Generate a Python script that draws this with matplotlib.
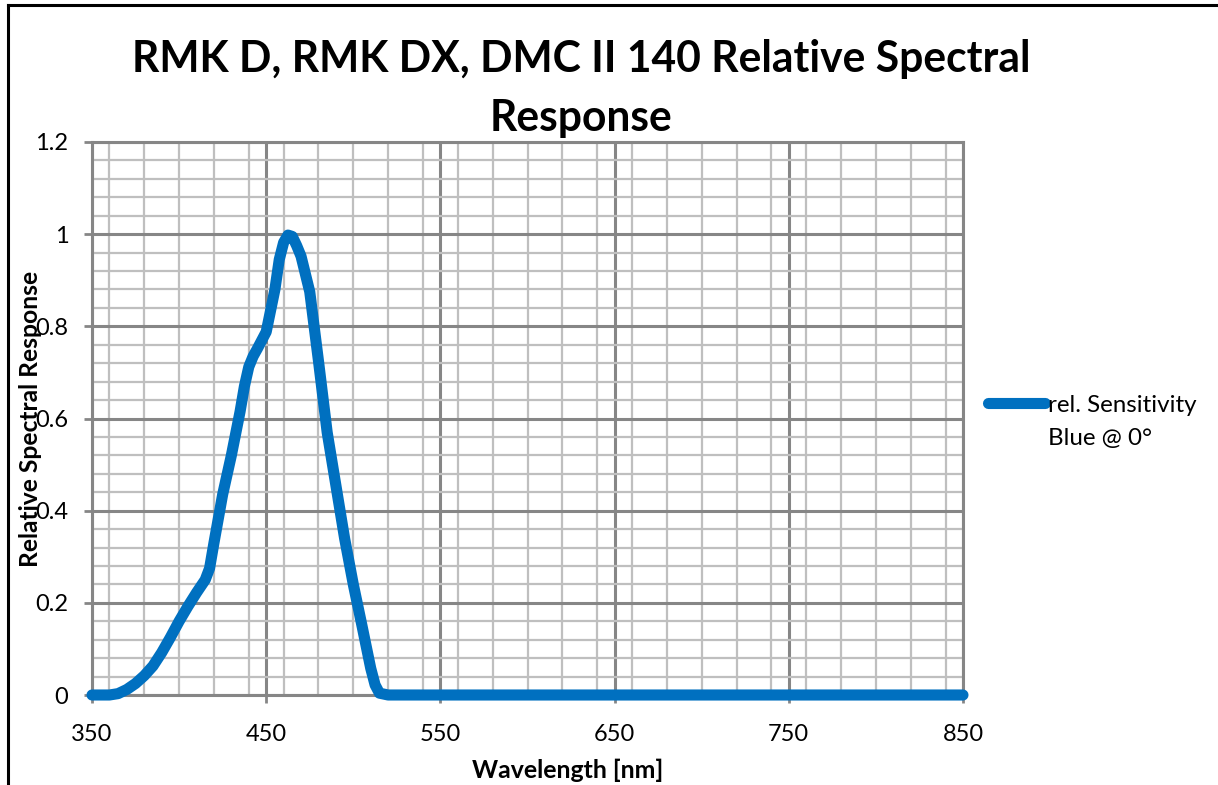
import matplotlib
matplotlib.use('Agg')
import matplotlib.pyplot as plt
from matplotlib.lines import Line2D
from matplotlib.ticker import MultipleLocator, FuncFormatter

# ---- data ----
wavelength = [350, 355, 360, 365, 370, 375, 380, 385, 390, 395, 400, 405, 410,
              415, 417.5, 420, 425, 430, 435, 437.5, 440, 442.5, 445, 450, 455, 457.5,
              460, 462.5, 465, 467.5, 470, 475, 480, 485, 490, 495, 500, 505, 510,
              512.5, 515, 520, 600, 700, 800, 850]
response = [0, 0, 0, 0.003, 0.012, 0.025, 0.042, 0.063, 0.092, 0.125, 0.16, 0.192, 0.222,
            0.25, 0.275, 0.33, 0.435, 0.52, 0.615, 0.67, 0.712, 0.735, 0.752, 0.788, 0.88, 0.945,
            0.982, 0.998, 0.995, 0.975, 0.952, 0.875, 0.725, 0.57, 0.455, 0.34, 0.24, 0.15, 0.058,
            0.022, 0.004, 0, 0, 0, 0, 0]
x_ticks = [350, 450, 550, 650, 750, 850]
y_ticks = [0, 0.2, 0.4, 0.6, 0.8, 1.0, 1.2]
title_lines = ["RMK D, RMK DX, DMC II 140 Relative Spectral", "Response"]
x_label = "Wavelength [nm]"
y_label = "Relative Spectral Response"
series_label = ["rel. Sensitivity", "Blue @ 0°"]

FONT = 'Lato'
plt.rcParams['font.family'] = [FONT, 'DejaVu Sans']

W, H = 1218, 785
fig = plt.figure(figsize=(W / 100, H / 100), dpi=100)
fig.patch.set_facecolor('white')

def fx(px):
    return px / W

def fy(py):
    return 1 - py / H

ax = fig.add_axes([fx(92), fy(695), fx(963) - fx(92), fy(142) - fy(695)])
ax.set_xlim(350, 850)
ax.set_ylim(0, 1.2)

MAJ = '#868686'
MIN = '#BFBFBF'
ax.xaxis.set_minor_locator(MultipleLocator(20))
ax.yaxis.set_minor_locator(MultipleLocator(0.04))
ax.set_xticks(x_ticks)
ax.set_yticks(y_ticks)
ax.yaxis.set_major_formatter(FuncFormatter(lambda v, p: f'{v:g}'))
ax.grid(which='minor', color=MIN, lw=1.6, zorder=0)
ax.grid(which='major', color=MAJ, lw=2.2, zorder=0.5)
ax.set_axisbelow(True)
for s in ax.spines.values():
    s.set_color(MAJ)
    s.set_linewidth(2.2)
ax.tick_params(which='major', length=6, width=2, color=MAJ, labelsize=17,
               labelcolor='black')
ax.tick_params(axis='x', which='major', pad=15)
ax.tick_params(axis='y', which='major', pad=11)
ax.tick_params(which='minor', length=0)

BLUE = '#0070C0'
ax.plot(wavelength, response, color=BLUE, lw=8, solid_joinstyle='round',
        solid_capstyle='round', clip_on=False, zorder=3)

# ---- texts ----
fig.canvas.draw()
renderer = fig.canvas.get_renderer()

def fit(t, target, vertical=False):
    bb = t.get_window_extent(renderer)
    w = bb.height if vertical else bb.width
    t.set_fontsize(t.get_fontsize() * target / w)

t1 = fig.text(fx(581), fy(72), title_lines[0], ha='center', va='baseline',
              fontsize=28, fontweight='bold')
fit(t1, 900)
t2 = fig.text(fx(581), fy(131), title_lines[1], ha='center', va='baseline',
              fontsize=t1.get_fontsize(), fontweight='bold')

xl = fig.text(fx(568), fy(778), x_label, ha='center', va='baseline',
              fontsize=15, fontweight='bold')
fit(xl, 192)
yl = fig.text(fx(38), fy(419), y_label, ha='center', va='baseline', rotation=90,
              rotation_mode='anchor', fontsize=15, fontweight='bold')
fit(yl, 298, vertical=True)

# legend
fig.add_artist(Line2D([fx(988), fx(1045)], [fy(403), fy(403)], color=BLUE, lw=8,
                      solid_capstyle='round', transform=fig.transFigure))
l1 = fig.text(fx(1048), fy(412), series_label[0], ha='left', va='baseline', fontsize=15)
fit(l1, 149)
l2 = fig.text(fx(1048), fy(445), series_label[1], ha='left', va='baseline',
              fontsize=l1.get_fontsize())

# outer border (left and top)
fig.add_artist(Line2D([fx(8), fx(8)], [fy(5), 0], color='black', lw=2.2,
                      transform=fig.transFigure))
fig.add_artist(Line2D([fx(8), 1], [fy(5), fy(5)], color='black', lw=2.2,
                      transform=fig.transFigure))

fig.savefig('out.png', dpi=100, facecolor='white')
